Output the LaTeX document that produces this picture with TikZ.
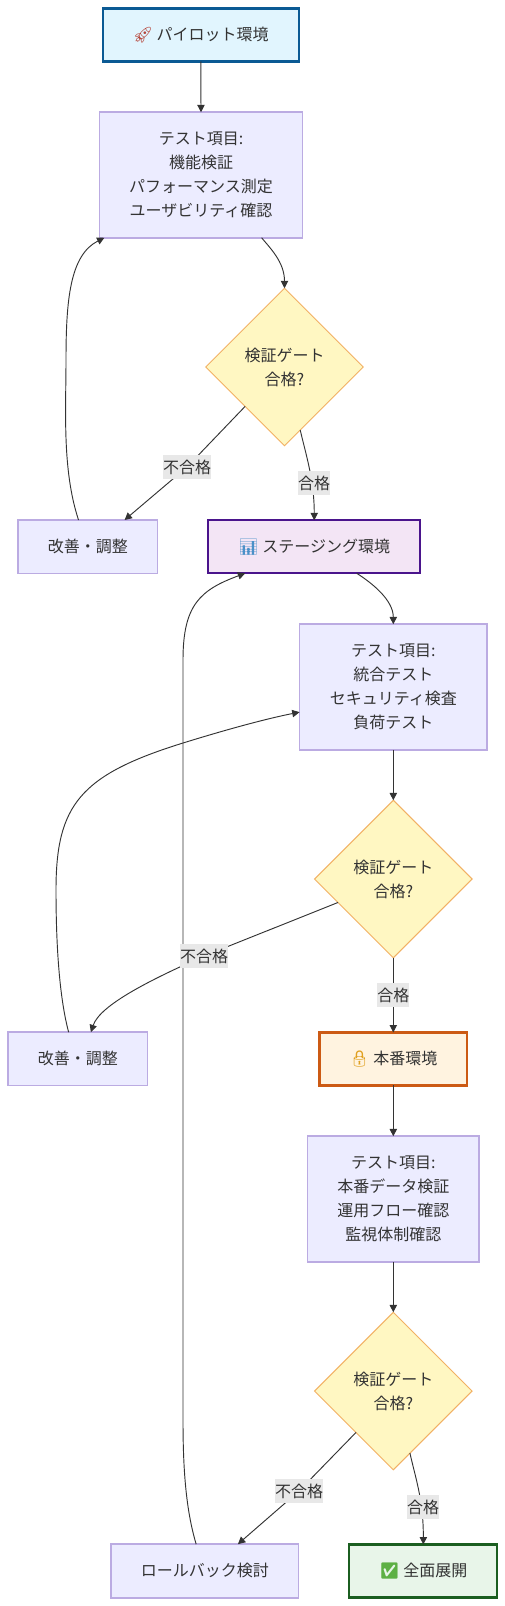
\documentclass[tikz,border=0pt]{standalone}
\usepackage{fontspec}
\usetikzlibrary{shapes.geometric,arrows.meta}
\setmainfont{Noto Sans CJK JP}
\newfontfamily\emo{Noto Emoji}
\definecolor{txt}{HTML}{333333}
\definecolor{plainfill}{HTML}{ECECFF}
\definecolor{plainline}{HTML}{BBABE2}
\definecolor{gatefill}{HTML}{FFF7C2}
\definecolor{gateline}{HTML}{F2B163}
\definecolor{labelfill}{HTML}{E8E8E8}
\definecolor{pilotline}{HTML}{0B5A94}
\definecolor{pilotfill}{HTML}{E1F5FE}
\definecolor{stagingline}{HTML}{4A148C}
\definecolor{stagingfill}{HTML}{F3E5F5}
\definecolor{prodline}{HTML}{CC5A14}
\definecolor{prodfill}{HTML}{FFF3E0}
\definecolor{doneline}{HTML}{1B5E20}
\definecolor{donefill}{HTML}{E8F5E9}
\definecolor{rocketcol}{HTML}{B5453A}
\definecolor{chartcol}{HTML}{4A90C8}
\definecolor{lockcol}{HTML}{E0A020}
\definecolor{checkcol}{HTML}{5DB044}
\tikzset{
  x=0.75pt,y=-0.75pt,
  sz/.style 2 args={minimum width=#1*0.75pt,minimum height=#2*0.75pt},
  base/.style={inner sep=0pt,outer sep=0pt,align=center,text=txt,font=\fontsize{12}{18}\selectfont},
  plain/.style={base,rectangle,draw=plainline,fill=plainfill,line width=1.25pt},
  stage/.style 2 args={base,rectangle,draw=#1,fill=#2,line width=1.7pt},
  gate/.style={base,diamond,aspect=1,draw=gateline,fill=gatefill,line width=0.75pt,sz={157.5}{157.5}},
  edgeline/.style={draw=txt,line width=0.7pt,-{Triangle[length=5.5pt,width=5.5pt]}},
  lab/.style={base,fill=labelfill,minimum height=18pt},
}
\begin{document}
\begin{tikzpicture}
\useasboundingbox[fill=white] (0,0) rectangle (505,1606);
% nodes
\node[stage={pilotline}{pilotfill},sz={196}{53}] (pilot) at (200.8,35) {{\emo\textcolor{rocketcol}{🚀}} パイロット環境};
\node[plain,sz={203}{125.5}] (t1) at (201,175) {テスト項目:\\機能検証\\パフォーマンス測定\\ユーザビリティ確認};
\node[gate] (d1) at (284.5,367) {検証ゲート\\合格?};
\node[plain,sz={139.5}{53.5}] (k1) at (87.75,546.75) {改善・調整};
\node[stage={stagingline}{stagingfill},sz={212}{53}] (staging) at (314.25,546.75) {{\emo\textcolor{chartcol}{📊}} ステージング環境};
\node[plain,sz={187.5}{125.5}] (t2) at (393.3,687) {テスト項目:\\統合テスト\\セキュリティ検査\\負荷テスト};
\node[gate] (d2) at (393.3,879) {検証ゲート\\合格?};
\node[plain,sz={139.5}{53.5}] (k2) at (77.85,1058.9) {改善・調整};
\node[stage={prodline}{prodfill},sz={147.5}{53}] (prod) at (393.3,1058.9) {{\emo\textcolor{lockcol}{🔒}} 本番環境};
\node[plain,sz={171.5}{125.5}] (t3) at (393.3,1199) {テスト項目:\\本番データ検証\\運用フロー確認\\監視体制確認};
\node[gate] (d3) at (393.3,1391) {検証ゲート\\合格?};
\node[plain,sz={187.5}{53.5}] (rb) at (204.85,1570.9) {ロールバック検討};
\node[stage={doneline}{donefill},sz={148}{53}] (done) at (423.35,1570.9) {{\emo\textcolor{checkcol}{✅}} 全面展開};
% connectors
\draw[edgeline] (pilot.south) -- (t1.north);
\draw[edgeline] (t1.-46.9) .. controls (270,248) and (284.5,262) .. (d1.north);
\draw[edgeline] (d1.-135) -- (187,467) -- (k1.36.2);
\draw[edgeline] (d1.-76.3) .. controls (306,455) and (314.25,480) .. (staging.north);
\draw[edgeline] (k1.109.7) .. controls (62,470) and (66,410) .. (66,360) .. controls (66,300) and (70,255) .. (t1.-147.3);
\draw[edgeline] (staging.-32.5) .. controls (372,583) and (393.3,600) .. (t2.north);
\draw[edgeline] (t2.south) -- (d2.north);
\draw[edgeline] (d2.-157.7) -- (204,956) .. controls (150,980) and (100,1005) .. (k2.64.2);
\draw[edgeline] (d2.south) -- (prod.north);
\draw[edgeline] (k2.109.9) .. controls (60,1000) and (56,950) .. (56,890) .. controls (56,805) and (80,775) .. (183,743) .. controls (225,730) and (265,719) .. (t2.-165.8);
\draw[edgeline] (prod.south) -- (t3.north);
\draw[edgeline] (t3.south) -- (d3.north);
\draw[edgeline] (d3.-132.8) -- (299,1491) -- (rb.39.5);
\draw[edgeline] (d3.-75.8) .. controls (416,1480) and (423.35,1500) .. (done.north);
\draw[edgeline] (rb.108.3) .. controls (186,1510) and (183,1470) .. (183,1420) -- (183,660) .. controls (183,605) and (200,590) .. (staging.-159.5);
% edge labels
\node[lab] (l1) at (187,467) {不合格};
\node[lab] (l2) at (314,483) {合格};
\node[lab] (l3) at (204,956) {不合格};
\node[lab] (l4) at (393.3,995) {合格};
\node[lab] (l5) at (299,1491) {不合格};
\node[lab] (l6) at (423,1507) {合格};
\end{tikzpicture}
\end{document}
